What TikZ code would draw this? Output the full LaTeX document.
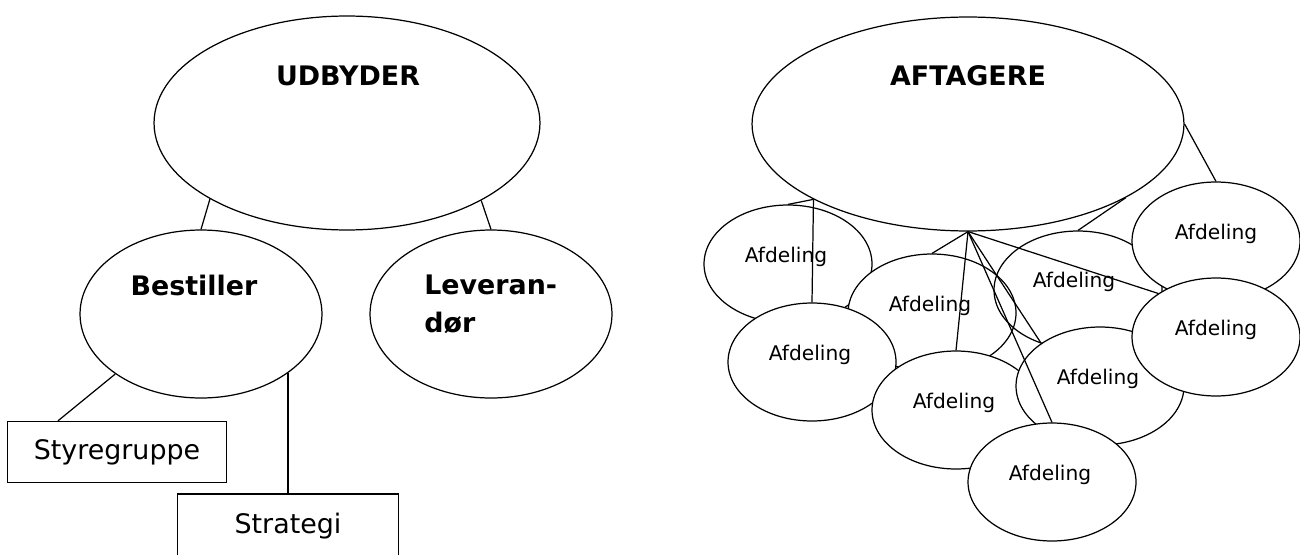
\documentclass[tikz,border=0pt]{standalone}
\usepackage{fontspec}
\setmainfont{DejaVu Sans}
\usetikzlibrary{shapes.geometric, positioning}
\tikzset{
    bigoval/.style={ellipse, draw, line width=0.7pt, fill=white, inner sep=0pt},
    afdoval/.style={ellipse, draw, line width=0.7pt, fill=white, inner sep=0pt, minimum width=3.36cm, minimum height=2.36cm},
    boxnode/.style={rectangle, draw, line width=0.7pt, fill=white, inner sep=0pt, font=\fontsize{15.3}{18}\selectfont},
    boldtxt/.style={font=\fontsize{15.3}{21.5}\selectfont\bfseries, inner sep=0pt},
    afdtxt/.style={font=\fontsize{11.5}{14}\selectfont, inner sep=0pt},
    link/.style={line width=0.7pt},
}

\begin{document}
\begin{tikzpicture}[x=0.02cm, y=-0.02cm]
    \useasboundingbox (0,0) rectangle (1300,554);
    \clip (0,0) rectangle (1300,554);
    % udbyder side
    \node[bigoval, minimum width=7.72cm, minimum height=4.28cm] (udbyder) at (347,123) {};
    \node[boldtxt] (udbydertxt) at (348,76) {UDBYDER};
    \node[bigoval, minimum width=4.84cm, minimum height=3.36cm] (bestiller) at (201,314) {};
    \node[boldtxt] (bestillertxt) at (194,285) {Bestiller};
    \node[bigoval, minimum width=4.84cm, minimum height=3.36cm] (leverandor) at (491,314) {};
    \node[boldtxt, align=left, anchor=west] (leverandortxt) at (424,304) {Leveran-\\dør};
    \node[boxnode, minimum width=4.38cm, minimum height=1.22cm] (styr) at (117,452) {Styregruppe};
    \node[boxnode, minimum width=4.42cm, minimum height=1.28cm] (strategi) at (288,526) {Strategi};
    \draw[link] (udbyder.209) -- (bestiller.north);
    \draw[link] (udbyder.330) -- (leverandor.north);
    \draw[link] (bestiller.215) -- ([xshift=1.02cm]styr.north west);
    \draw[link] (strategi.north) -- (strategi.north |- bestiller.326);
    % aftagere side
    \node[bigoval, minimum width=8.64cm, minimum height=4.28cm] (aftagere) at (968,124) {};
    \node[boldtxt] (aftageretxt) at (968,76) {AFTAGERE};
    \node[afdoval] (afd1) at (788,264) {};
    \node[afdtxt] (afd1txt) at (786,257) {Afdeling};
    \node[afdoval] (afd3) at (932,313) {};
    \node[afdtxt] (afd3txt) at (930,306) {Afdeling};
    \node[afdoval] (afd2) at (812,362) {};
    \node[afdtxt] (afd2txt) at (810,355) {Afdeling};
    \node[afdoval] (afd4) at (956,410) {};
    \node[afdtxt] (afd4txt) at (954,403) {Afdeling};
    \node[afdoval, fill=none] (afd5) at (1078,290) {};
    \node[afdtxt] (afd5txt) at (1074,282) {Afdeling};
    \node[afdoval] (afd6) at (1100,386) {};
    \node[afdtxt] (afd6txt) at (1098,379) {Afdeling};
    \node[afdoval] (afd8) at (1216,241) {};
    \node[afdtxt] (afd8txt) at (1216,234) {Afdeling};
    \node[afdoval] (afd9) at (1216,337) {};
    \node[afdtxt] (afd9txt) at (1216,330) {Afdeling};
    \node[afdoval] (afd7) at (1052,482) {};
    \node[afdtxt] (afd7txt) at (1050,475) {Afdeling};
    \draw[link] (aftagere.206) -- (afd1.north);
    \draw[link] (aftagere.206) -- (afd2.north);
    \draw[link] (aftagere.south) -- (afd3.north);
    \draw[link] (aftagere.south) -- (afd4.north);
    \draw[link] (aftagere.335) -- (afd5.north);
    \draw[link] (aftagere.south) -- (afd6.144);
    \draw[link] (aftagere.south) -- (afd7.north);
    \draw[link] (aftagere.east) -- (afd8.north);
    \draw[link] (aftagere.south) -- (afd9.143);
\end{tikzpicture}
\end{document}
